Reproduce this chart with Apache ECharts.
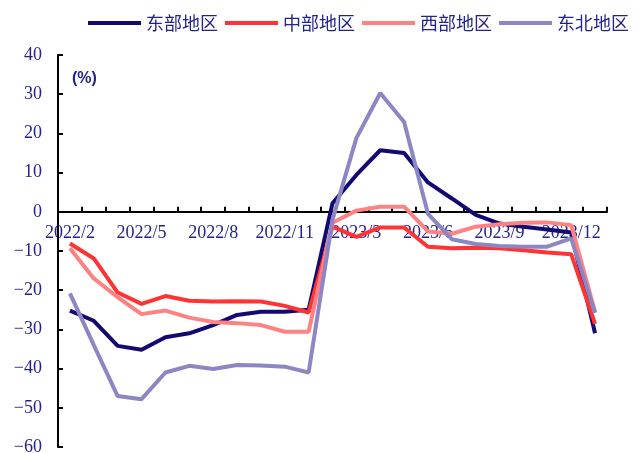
<!DOCTYPE html>
<html>
<head>
<meta charset="utf-8">
<script src="https://cdn.jsdelivr.net/npm/echarts@6/dist/echarts.min.js"></script>
<style>
  html, body { margin: 0; padding: 0; background: #fff; }
  #chart { width: 641px; height: 453px; }
</style>
</head>
<body>
<div id="chart"></div>
<script>
// 月份（1月与2月合并）
const months = ['2022/2', '2022/3', '2022/4', '2022/5', '2022/6', '2022/7', '2022/8', '2022/9',
  '2022/10', '2022/11', '2022/12', '2023/2', '2023/3', '2023/4', '2023/5', '2023/6', '2023/7',
  '2023/8', '2023/9', '2023/10', '2023/11', '2023/12', '2024/2']

const regionNames = ['东部地区', '中部地区', '西部地区', '东北地区']

const east = [-25.2, -27.8, -34.2, -35.2, -32.0, -31.0, -28.9, -26.3, -25.5, -25.5, -25.0,
  2.2, 9.4, 15.7, 15.0, 7.5, 3.4, -0.8, -3.0, -3.8, -4.5, -5.3, -31.0]
const central = [-8.1, -11.9, -20.6, -23.5, -21.5, -22.7, -22.9, -22.8, -22.9, -24.0, -25.7,
  -3.8, -6.4, -4.0, -4.0, -8.9, -9.3, -9.2, -9.3, -9.8, -10.4, -10.8, -28.6]
const west = [-9.3, -17.0, -21.8, -26.1, -25.2, -27.0, -28.1, -28.4, -28.9, -30.6, -30.6,
  -2.8, 0.3, 1.3, 1.3, -5.0, -5.6, -3.8, -3.2, -2.8, -2.7, -3.4, -25.6]
const northeast = [-20.8, -34.0, -47.0, -47.8, -41.0, -39.3, -40.1, -39.1, -39.2, -39.5, -41.0,
  -2.0, 18.8, 30.3, 22.9, -0.5, -7.0, -8.2, -8.7, -8.9, -8.9, -6.8, -25.8]

const yMin = -60
const yMax = 40

const colors = ['#120a72', '#ff3333', '#ff8282', '#8c87c4']
const textColor = '#23238e'

const gridTop = 55
const gridBottom = 6
const chartH = 453
// x轴放在0值处（标签也跟着走）
const zeroOffset = -(chartH - gridBottom - gridTop) * (0 - yMin) / (yMax - yMin)

const chart = echarts.init(document.getElementById('chart'))

function line(name, data, color) {
  return {
    name: name,
    type: 'line',
    data: data,
    symbol: 'none',
    lineStyle: { color: color, width: 4 },
    itemStyle: { color: color }
  }
}

chart.setOption({
  animation: false,
  color: colors,
  grid: { left: 58, right: 34, top: gridTop, bottom: gridBottom, containLabel: false, outerBoundsMode: 'none' },
  legend: {
    left: 83,
    top: 9,
    icon: 'rect',
    itemWidth: 53,
    itemHeight: 4,
    itemGap: 7,
    textStyle: { color: textColor, fontSize: 18, fontFamily: 'Noto Sans CJK SC' },
    data: regionNames
  },
  graphic: [{
    type: 'text',
    left: 72,
    top: 71,
    style: { text: '(%)', fill: textColor, font: 'bold 16px "Liberation Sans"' }
  }],
  xAxis: {
    type: 'category',
    data: months,
    boundaryGap: true,
    position: 'bottom',
    offset: zeroOffset,
    axisLine: { onZero: false, lineStyle: { color: '#000', width: 2 } },
    axisTick: { show: true, inside: true, length: 5, interval: 0, lineStyle: { color: '#000', width: 2 } },
    axisLabel: {
      interval: 2,
      margin: 12,
      color: textColor,
      fontSize: 18,
      fontFamily: 'Liberation Serif'
    },
    splitLine: { show: false }
  },
  yAxis: {
    type: 'value',
    min: yMin,
    max: yMax,
    interval: 10,
    axisLine: { show: true, lineStyle: { color: '#000', width: 2 } },
    axisTick: { show: true, inside: true, length: 5, lineStyle: { color: '#000', width: 2 } },
    axisLabel: {
      margin: 16,
      color: textColor,
      fontSize: 18,
      fontFamily: 'Liberation Serif',
      formatter: v => String(v).replace('-', '\u2212')
    },
    splitLine: { show: false }
  },
  series: [
    line(regionNames[0], east, colors[0]),
    line(regionNames[1], central, colors[1]),
    line(regionNames[2], west, colors[2]),
    line(regionNames[3], northeast, colors[3])
  ]
})
</script>
</body>
</html>
